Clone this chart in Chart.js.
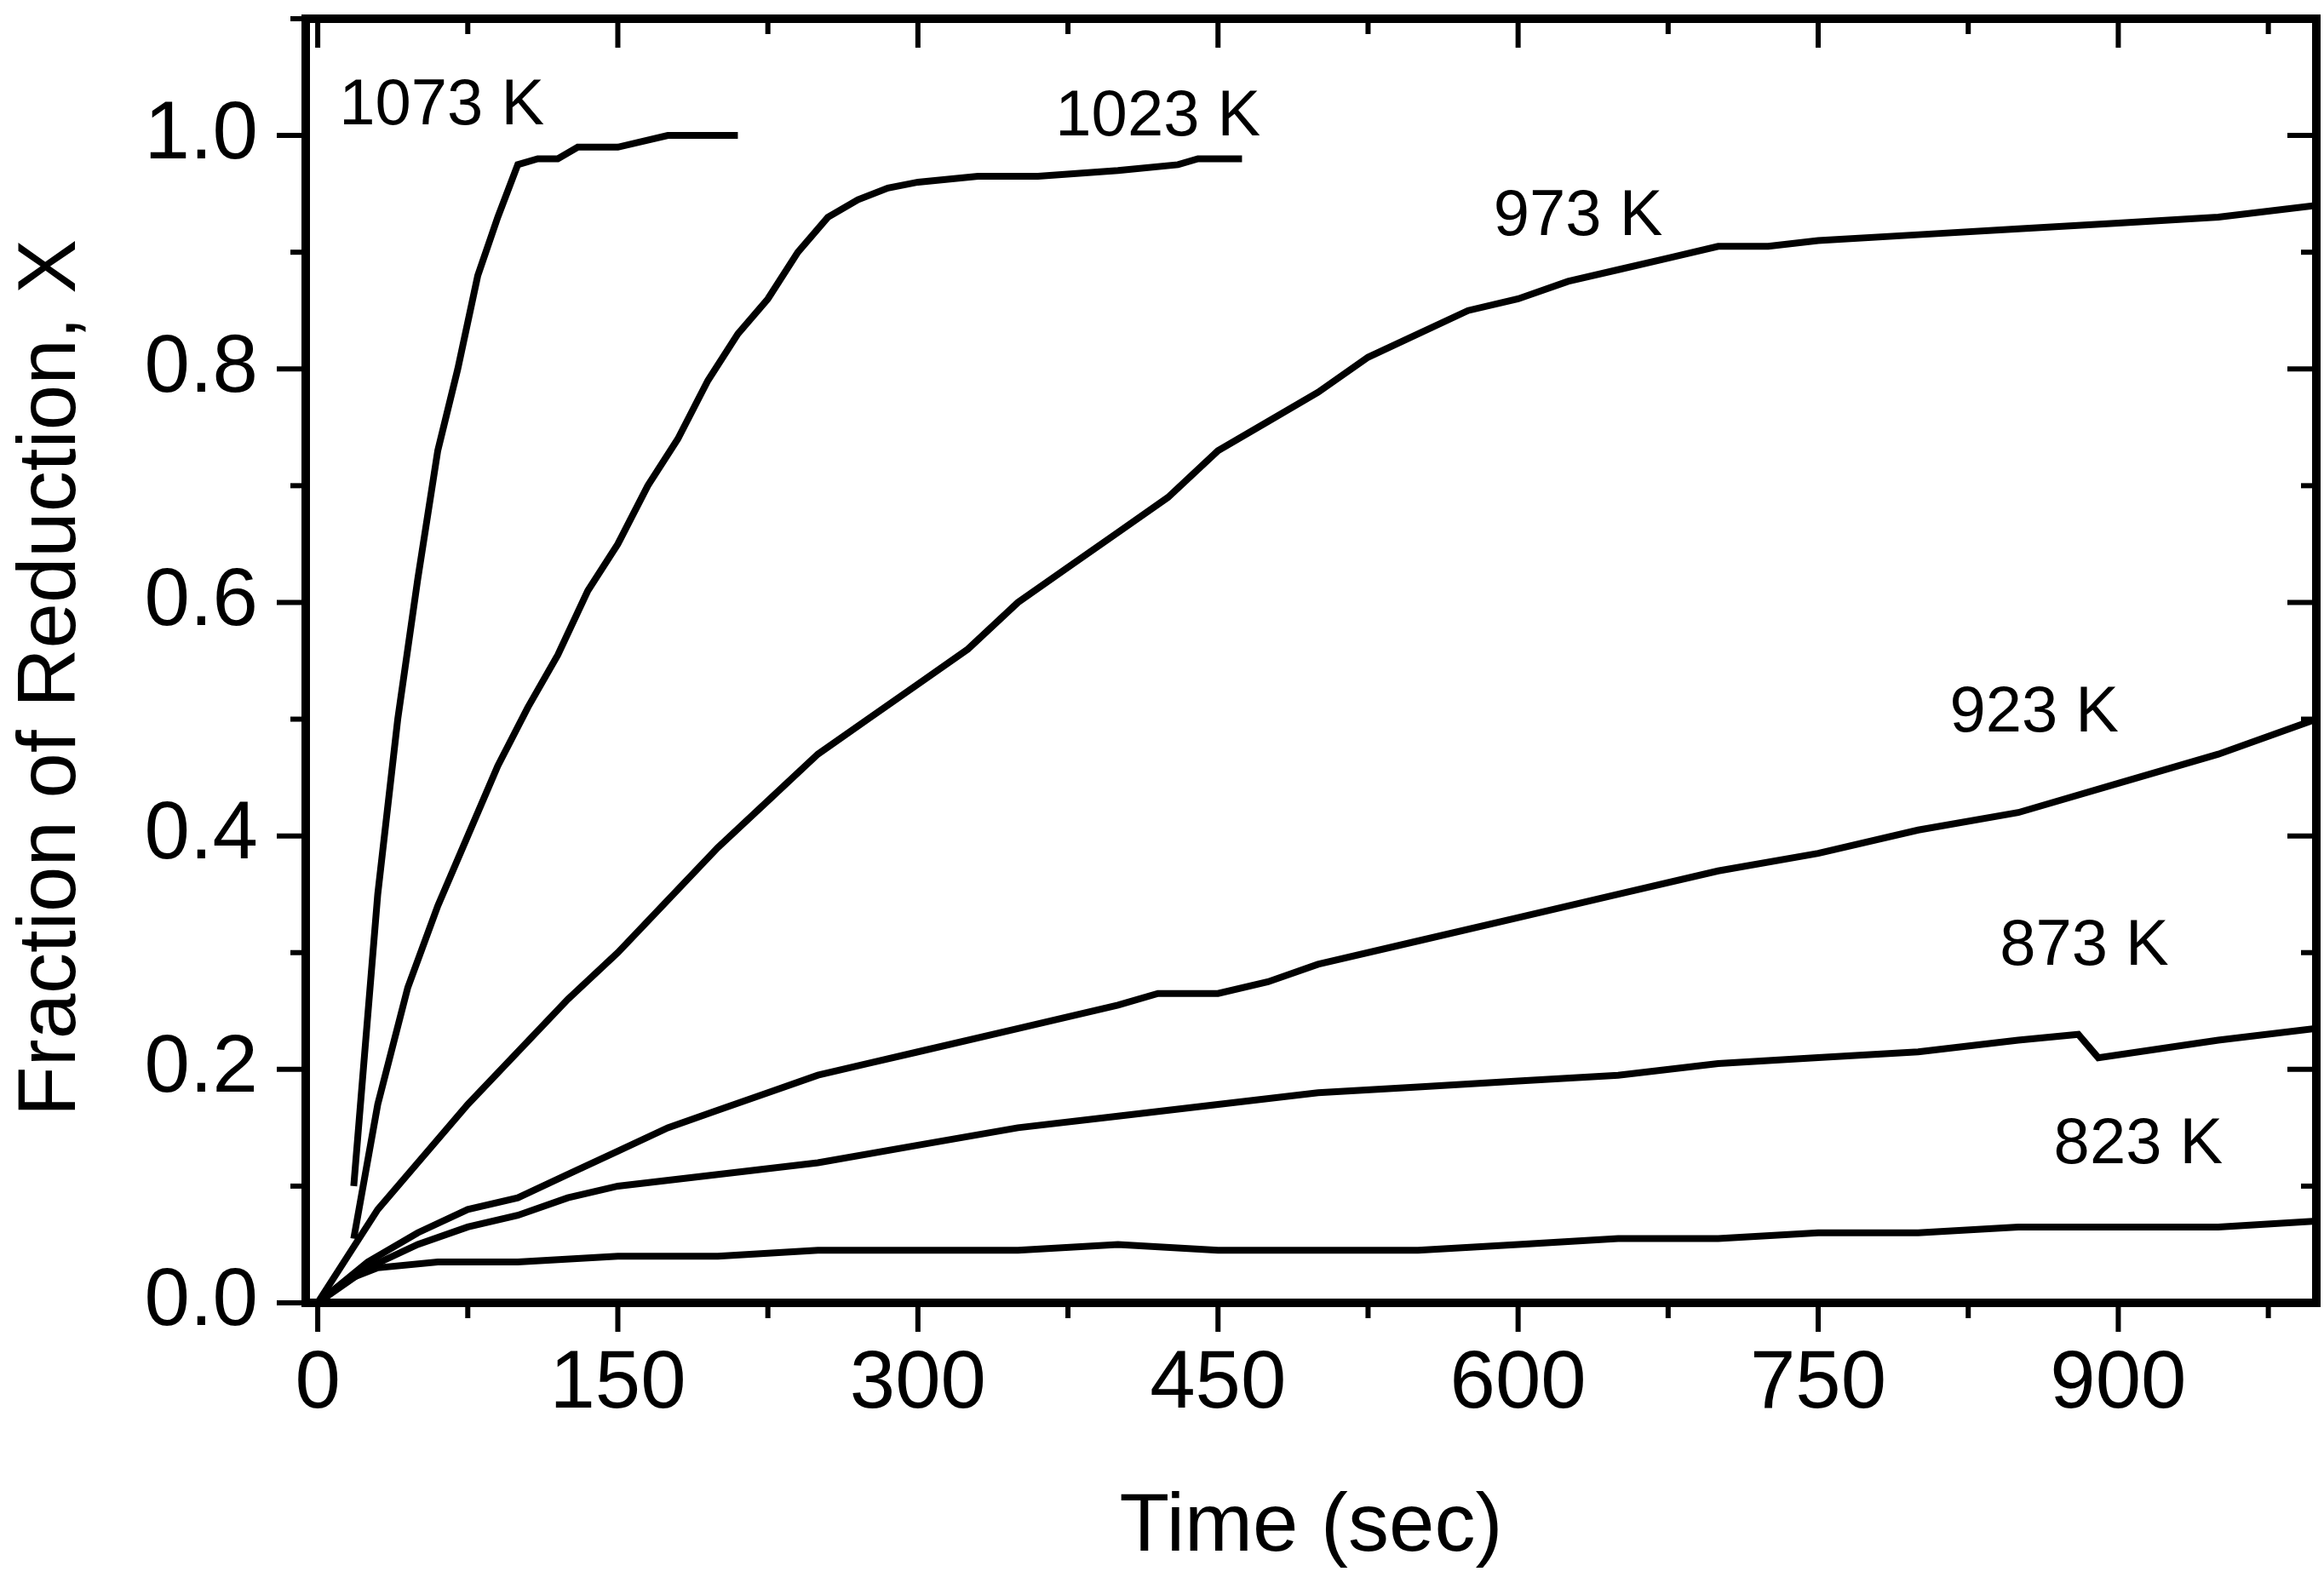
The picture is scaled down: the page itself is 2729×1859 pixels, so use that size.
<!DOCTYPE html>
<html><head><meta charset="utf-8">
<script src="https://cdn.jsdelivr.net/npm/chart.js@4/dist/chart.umd.min.js"></script>
<style>html,body{margin:0;padding:0;background:#fff}#c{display:block}</style>
</head><body>
<canvas id="c" width="2729" height="1859"></canvas>
<script>
const xTicks = [0,150,300,450,600,750,900];
const yTicks = [0.0,0.2,0.4,0.6,0.8,1.0];
const seriesNames = ['1073 K','1023 K','973 K','923 K','873 K','823 K'];
const t1073 = [18,30,40,50,60,70,80,90,100,110,120,130,150,175,210];
const x1073 = [0.10,0.35,0.50,0.62,0.73,0.80,0.88,0.93,0.975,0.98,0.98,0.99,0.99,1.0,1.0];
const t1023 = [18,30,45,60,75,90,105,120,135,150,165,180,195,210,225,240,255,270,285,300,330,360,400,430,440,462];
const x1023 = [0.055,0.17,0.27,0.34,0.40,0.46,0.51,0.555,0.61,0.65,0.70,0.74,0.79,0.83,0.86,0.90,0.93,0.945,0.955,0.96,0.965,0.965,0.97,0.975,0.98,0.98];
const t973 = [0,15,30,50,75,100,125,150,175,200,225,250,275,300,325,350,375,400,425,450,475,500,525,550,575,600,625,650,675,700,725,750,800,850,900,950,999];
const x973 = [0,0.04,0.08,0.12,0.17,0.215,0.26,0.30,0.345,0.39,0.43,0.47,0.50,0.53,0.56,0.60,0.63,0.66,0.69,0.73,0.755,0.78,0.81,0.83,0.85,0.86,0.875,0.885,0.895,0.905,0.905,0.91,0.915,0.92,0.925,0.93,0.94];
const t923 = [0,25,50,75,100,125,150,175,200,225,250,275,300,350,400,420,450,475,500,550,600,650,700,750,800,850,900,950,999];
const x923 = [0,0.035,0.06,0.08,0.09,0.11,0.13,0.15,0.165,0.18,0.195,0.205,0.215,0.235,0.255,0.265,0.265,0.275,0.29,0.31,0.33,0.35,0.37,0.385,0.405,0.42,0.445,0.47,0.50];
const t873 = [0,25,50,75,100,125,150,200,250,300,350,400,450,500,550,600,650,700,750,800,850,880,890,950,999];
const x873 = [0,0.03,0.05,0.065,0.075,0.09,0.10,0.11,0.12,0.135,0.15,0.16,0.17,0.18,0.185,0.19,0.195,0.205,0.21,0.215,0.225,0.23,0.21,0.225,0.235];
const t823 = [0,15,30,60,100,150,200,250,300,350,400,450,500,550,600,650,700,750,800,850,900,950,999];
const x823 = [0,0.02,0.03,0.035,0.035,0.04,0.04,0.045,0.045,0.045,0.05,0.045,0.045,0.045,0.05,0.055,0.055,0.06,0.06,0.065,0.065,0.065,0.07];
const labelT = [62,420,630,858,883,910];
const labelX = [1.025,1.015,0.93,0.505,0.305,0.135];

const times=[t1073,t1023,t973,t923,t873,t823], vals=[x1073,x1023,x973,x923,x873,x823];
const datasets = seriesNames.map((n,i)=>({label:n,data:times[i].map((t,j)=>({x:t,y:vals[i][j]})),borderColor:'#000',borderWidth:8,pointRadius:0,tension:0,fill:false}));
const FONT='"Liberation Sans", Arial, sans-serif';
const deco={id:'deco',afterDraw(ch){
  const c=ch.ctx,a=ch.chartArea,xs=ch.scales.x,ys=ch.scales.y;
  c.save();c.strokeStyle='#000';c.fillStyle='#000';c.lineWidth=10;c.lineCap='square';
  c.strokeRect(a.left,a.top,a.right-a.left,a.bottom-a.top);
  c.lineWidth=6;c.lineCap='butt';
  for(let v=0;v<=1000;v+=75){const p=xs.getPixelForValue(v);if(p>a.right-3)continue;const L=(v%150===0)?34:18;
    c.beginPath();c.moveTo(p,a.bottom);c.lineTo(p,a.bottom+L);c.stroke();
    c.beginPath();c.moveTo(p,a.top);c.lineTo(p,a.top+L);c.stroke();}
  for(let k=0;k<=11;k++){const v=k/10;const p=ys.getPixelForValue(v);const L=(k%2===0)?34:18;
    c.beginPath();c.moveTo(a.left,p);c.lineTo(a.left-L,p);c.stroke();
    c.beginPath();c.moveTo(a.right,p);c.lineTo(a.right-L,p);c.stroke();}
  c.font='96px '+FONT;c.textAlign='center';c.textBaseline='middle';
  xTicks.forEach(v=>c.fillText(String(v),xs.getPixelForValue(v),a.bottom+97));
  c.textAlign='right';
  yTicks.forEach(v=>c.fillText(v.toFixed(1),a.left-56,ys.getPixelForValue(v)));
  c.textAlign='center';c.fillText('Time (sec)',(a.left+a.right)/2,1795);
  c.save();c.translate(62,(a.top+a.bottom)/2+20);c.rotate(-Math.PI/2);c.fillText('Fraction of Reduction, X',0,0);c.restore();
  c.font='76px '+FONT;
  seriesNames.forEach((n,i)=>c.fillText(n,xs.getPixelForValue(labelT[i]),ys.getPixelForValue(labelX[i])));
  c.restore();}};
new Chart(document.getElementById('c'),{type:'line',data:{datasets},
 options:{responsive:false,animation:false,events:[],
  layout:{padding:{top:22,right:9,left:0,bottom:0}},
  plugins:{legend:{display:false},tooltip:{enabled:false}},
  scales:{
   x:{type:'linear',min:-6,max:999,grid:{display:false},border:{display:false},ticks:{display:false},afterFit(s){s.height=329;}},
   y:{type:'linear',min:0,max:1.1,grid:{display:false},border:{display:false},ticks:{display:false},afterFit(s){s.width=359;}}
  }},plugins:[deco]});
</script></body></html>
